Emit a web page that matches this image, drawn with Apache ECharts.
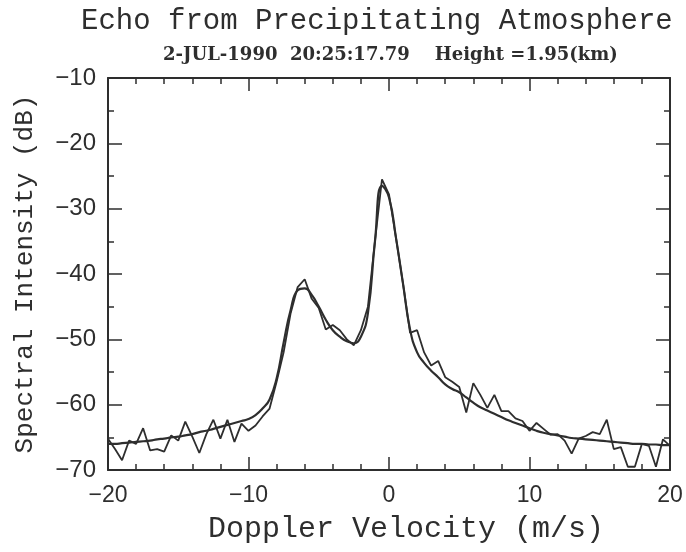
<!DOCTYPE html>
<html lang="en">
<head>
    <meta charset="UTF-8">
    <script type="text/javascript" src="https://cdn.jsdelivr.net/npm/echarts@6/dist/echarts.min.js"></script>
    <title>Echo from Precipitating Atmosphere</title>
    <style>
        html, body { margin: 0; padding: 0; background: #fff; }
        #main { width: 686px; height: 552px; }
    </style>
</head>
<body>
    <div id="main"></div>
</body>
</html>
<script>
    // Doppler velocity (m/s), one value every 0.5 m/s
    var velocity = [];
    for (var i = 0; i <= 80; i++) velocity.push(-20 + i * 0.5);

    // measured spectrum (dB)
    var measured = [
        -65.2, -66.8, -68.5, -65.5, -66.0, -63.6, -67.0, -66.8, -67.2, -64.7,
        -65.5, -62.6, -64.9, -67.4, -64.5, -62.3, -65.2, -62.3, -65.7, -62.9,
        -64.0, -63.2, -61.8, -60.6, -56.5, -52.0, -46.0, -42.0, -40.8, -43.8,
        -45.2, -48.5, -47.8, -48.6, -50.0, -50.9, -48.6, -45.0, -35.0, -25.5,
        -27.8, -34.5, -41.5, -49.0, -48.6, -52.0, -54.0, -53.3, -55.8, -56.5,
        -57.3, -61.2, -56.7, -58.5, -60.5, -58.5, -61.0, -61.0, -62.1, -62.5,
        -64.0, -62.8, -63.7, -64.6, -64.5, -65.5, -67.5, -65.2, -64.8, -64.2,
        -64.5, -62.3, -66.8, -66.5, -69.5, -69.5, -66.0, -66.3, -69.5, -65.3,
        -66.3
    ];

    // fitted model curve (dB)
    var fitted = [
        -66.0, -66.0, -65.9, -65.8, -65.7, -65.6, -65.5, -65.3, -65.2, -65.0,
        -64.9, -64.7, -64.5, -64.2, -64.0, -63.7, -63.4, -63.1, -62.8, -62.5,
        -62.2, -61.6, -60.6, -59.2, -56.0, -50.5, -45.5, -42.5, -42.2, -43.2,
        -45.0, -47.0, -48.6, -49.6, -50.3, -50.6, -49.6, -46.0, -35.0, -26.5,
        -28.3, -34.5, -41.5, -48.5, -52.0, -53.6, -54.8, -55.8, -56.9, -57.6,
        -58.1, -58.9, -59.7, -60.4, -60.9, -61.4, -61.9, -62.4, -62.8, -63.2,
        -63.6, -64.0, -64.3, -64.5, -64.7, -64.9, -65.1, -65.2, -65.3, -65.4,
        -65.5, -65.6, -65.7, -65.8, -65.9, -66.0, -66.0, -66.1, -66.1, -66.2,
        -66.2
    ];

    var ink = '#2e2e2e';
    var minus = function (v) { return String(v).replace('-', '\u2212'); };

    function pairs(ys) {
        return velocity.map(function (v, i) { return [v, ys[i]]; });
    }

    var xBase = {
        min: -20, max: 20, interval: 10,
        axisLine: { show: true, onZero: false, lineStyle: { color: ink, width: 2 } },
        axisTick: { show: true, inside: true, length: 13, lineStyle: { color: ink, width: 1.5 } },
        minorTick: { show: true, splitNumber: 5, length: 6, lineStyle: { color: ink, width: 1.5 } },
        splitLine: { show: false }
    };
    var yBase = {
        min: -70, max: -10, interval: 10,
        axisLine: { show: true, onZero: false, lineStyle: { color: ink, width: 2 } },
        axisTick: { show: true, inside: true, length: 14, lineStyle: { color: ink, width: 1.5 } },
        minorTick: { show: true, splitNumber: 2, length: 6, lineStyle: { color: ink, width: 1.5 } },
        splitLine: { show: false }
    };

    var myChart = echarts.init(document.getElementById('main'));
    myChart.setOption({
        animation: false,
        backgroundColor: '#fff',
        title: [{
            text: 'Echo from Precipitating Atmosphere',
            left: 76, top: 2,
            textStyle: { fontFamily: 'Liberation Mono', fontSize: 29, fontWeight: 'normal', color: ink }
        }, {
            text: '2-JUL-1990  20:25:17.79    Height =1.95(km)',
            left: 158, top: 41,
            textStyle: { fontFamily: 'DejaVu Serif', fontSize: 18, fontWeight: 'bold', color: ink }
        }],
        grid: { left: 108, right: 16, top: 78, bottom: 82 },
        xAxis: [
            Object.assign({}, xBase, {
                type: 'value', position: 'bottom',
                name: 'Doppler Velocity (m/s)', nameLocation: 'middle', nameGap: 44,
                nameTextStyle: { fontFamily: 'Liberation Mono', fontSize: 30, color: ink, padding: [0, 0, 0, 34] },
                axisLabel: { margin: 14, formatter: minus, fontFamily: 'Liberation Sans', fontSize: 23, color: ink }
            }),
            Object.assign({}, xBase, { type: 'value', position: 'top', axisLabel: { show: false } })
        ],
        yAxis: [
            Object.assign({}, yBase, {
                type: 'value', position: 'left',
                name: 'Spectral Intensity (dB)', nameLocation: 'middle', nameGap: 70, nameRotate: 90,
                nameTextStyle: { fontFamily: 'Liberation Mono', fontSize: 26, color: ink },
                axisLabel: { margin: 12, formatter: minus, fontFamily: 'Liberation Sans', fontSize: 24, color: ink }
            }),
            Object.assign({}, yBase, { type: 'value', position: 'right', axisLabel: { show: false } })
        ],
        series: [{
            name: 'measured',
            type: 'line',
            data: pairs(measured),
            showSymbol: false,
            lineStyle: { color: ink, width: 1.8 }
        }, {
            name: 'fit',
            type: 'line',
            smooth: true,
            data: pairs(fitted),
            showSymbol: false,
            lineStyle: { color: ink, width: 2.2 }
        }]
    });
</script>
